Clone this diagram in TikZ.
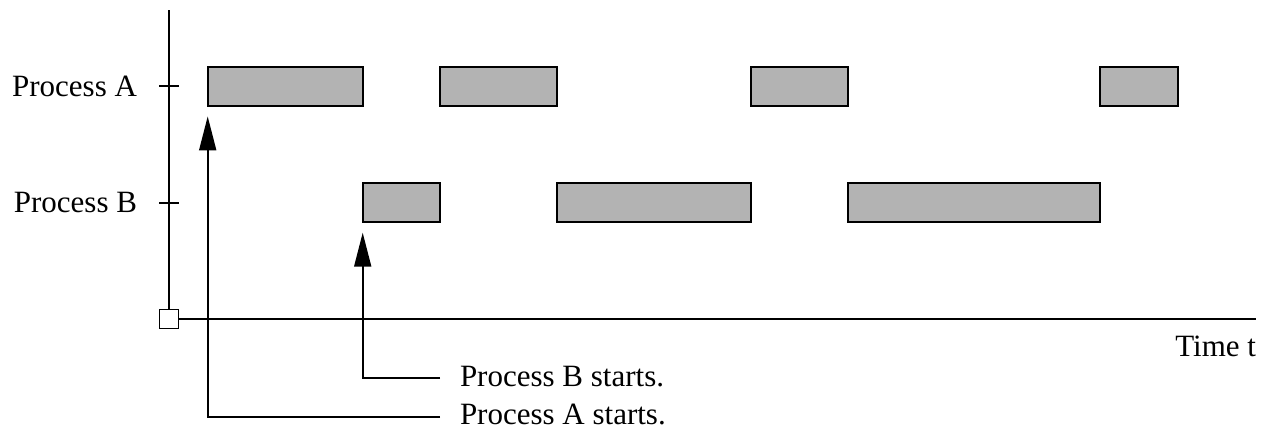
\documentclass[tikz,border=0pt]{standalone}
\usepackage{fontspec}
\setmainfont{Liberation Serif}
\usetikzlibrary{arrows.meta}
\definecolor{bargray}{HTML}{B3B3B3}
\tikzset{
  ln/.style={line width=1.8pt},
  bar/.style={draw, line width=1.8pt, fill=bargray, inner sep=0pt, outer sep=0pt,
    minimum height=39pt, anchor=north west},
  lbl/.style={inner sep=0pt, outer sep=0pt, font=\fontsize{31}{37}\selectfont},
  arr/.style={line width=1.8pt, -{Triangle[length=34pt,width=17pt]}},
  origin/.style={draw, line width=1.8pt, fill=white, minimum size=19pt, inner sep=0pt, outer sep=0pt}
}
\begin{document}
\begin{tikzpicture}[x=1pt,y=-1pt]
\useasboundingbox (0,0) rectangle (1263,429);
% axes
\node[origin] (o) at (169,319) {};
\coordinate (ytop) at (169,10);
\coordinate (xend) at (1256,319);
\draw[ln] (o.north) -- (ytop);
\draw[ln] (o.east) -- (xend);
% ticks
\coordinate (tA1) at (159,86.3); \coordinate (tA2) at (179,86.3);
\coordinate (tB1) at (159,202.8); \coordinate (tB2) at (179,202.8);
\draw[ln] (tA1) -- (tA2);
\draw[ln] (tB1) -- (tB2);
% axis labels
\node[lbl, anchor=east] (pa) at (137,86.3) {Process A};
\node[lbl, anchor=east] (pb) at (137,202.8) {Process B};
\node[lbl, anchor=base east] (tt) at (1256,356.7) {Time t};
% process A bars
\node[bar, minimum width=155pt] (a1) at (207.7,66.7) {};
\node[bar, minimum width=117pt] (a2) at (440.3,66.7) {};
\node[bar, minimum width=97.3pt] (a3) at (750.7,66.7) {};
\node[bar, minimum width=78pt] (a4) at (1100.3,66.7) {};
% process B bars
\node[bar, minimum width=77.6pt] (b1) at (362.7,183.3) {};
\node[bar, minimum width=194.3pt] (b2) at (556.7,183.3) {};
\node[bar, minimum width=252.6pt] (b3) at (847.7,183.3) {};
% start labels
\node[lbl, anchor=west] (sb) at (460,376.7) {Process B starts.};
\node[lbl, anchor=west] (sa) at (460,414.7) {Process A starts.};
\draw[arr] ([xshift=-20pt,yshift=-2pt]sa.west) -| ([yshift=-10.7pt]a1.south west);
\draw[arr] ([xshift=-20pt,yshift=-1pt]sb.west) -| ([yshift=-10.4pt]b1.south west);
\end{tikzpicture}
\end{document}
